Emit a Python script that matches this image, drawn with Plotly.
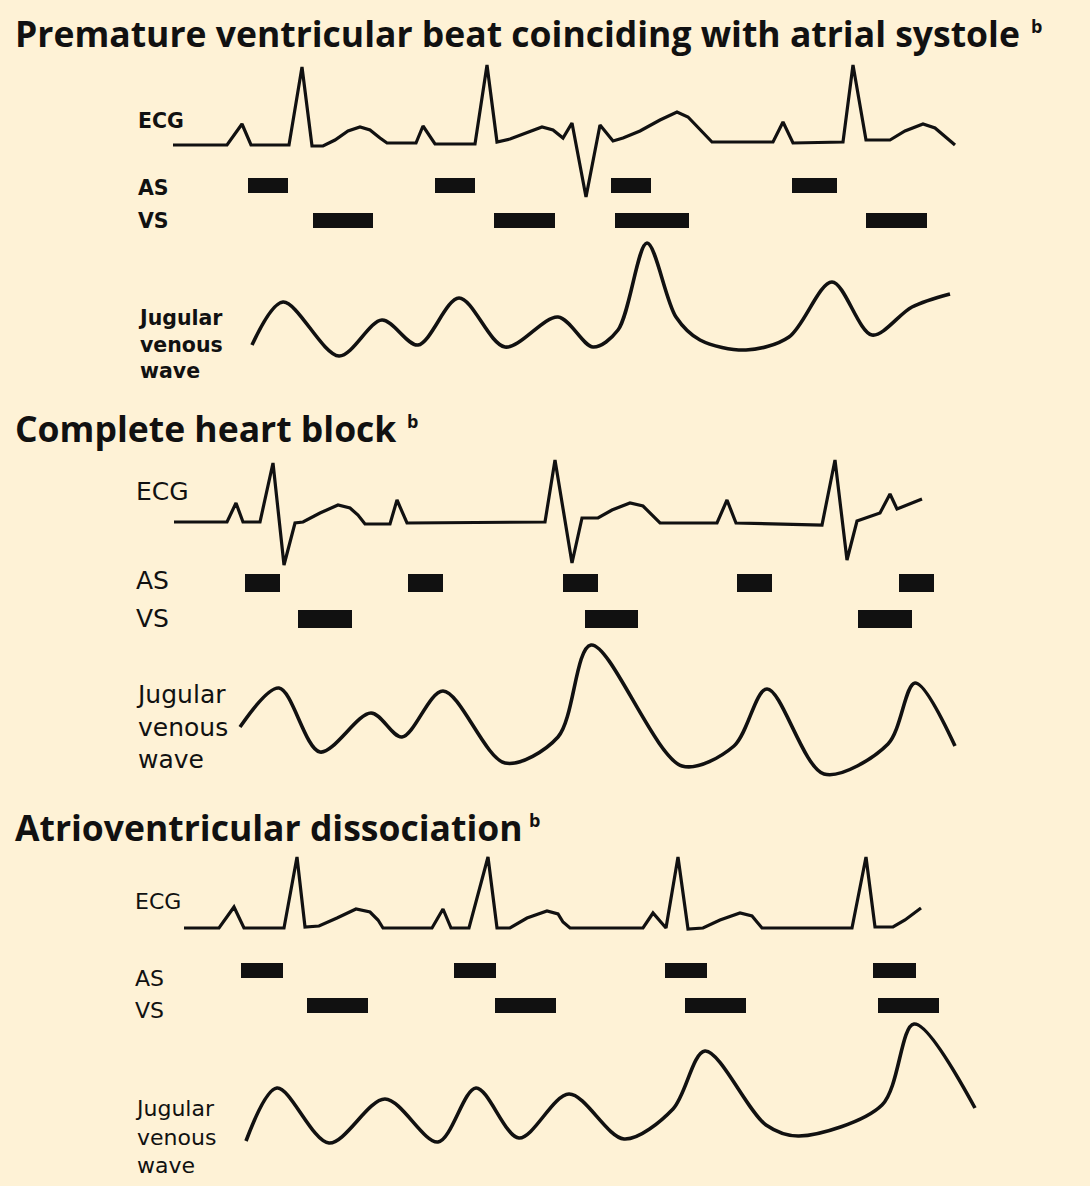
import plotly.graph_objects as go

# ---------------- data (pixel-space coordinates) ----------------
titles = ["Premature ventricular beat coinciding with atrial systole",
          "Complete heart block",
          "Atrioventricular dissociation"]
title_note = "b"
row_labels = ["ECG", "AS", "VS"]
jvp_label_lines = ["Jugular", "venous", "wave"]

# Panel 1
p1_ecg_x = [173, 227, 242, 251, 289, 302, 312, 323, 335, 348, 360, 370, 380, 387, 416, 423, 435, 475, 487, 497,
            510, 525, 542, 553, 563, 572, 586, 600, 613, 623, 640, 660, 677, 688, 700, 712, 773, 783, 793, 843,
            853, 866, 890, 905, 923, 935, 955]
p1_ecg_y = [145, 145, 124, 145, 145, 67, 146, 146, 140, 131, 127, 130, 138, 143, 143, 126, 144, 144, 65, 142,
            139, 133, 127, 130, 138, 123, 197, 125, 141, 138, 131, 120, 112, 117, 130, 142, 142, 122, 143, 142,
            65, 140, 140, 131, 124, 128, 145]
p1_as_start = [248, 435, 611, 792]
p1_as_end = [288, 475, 651, 837]
p1_vs_start = [313, 494, 615, 866]
p1_vs_end = [373, 555, 689, 927]
p1_jvp_x = [252, 283, 339, 382, 418, 459, 505, 558, 593, 618, 647, 676, 700, 746, 789, 832, 872, 912, 950]
p1_jvp_y = [345, 302, 356, 320, 345, 298, 347, 317, 347, 330, 243, 317, 340, 350, 337, 282, 335, 307, 294]

# Panel 2
p2_ecg_x = [174, 227, 236, 243, 260, 273, 284, 295, 303, 320, 338, 350, 358, 365, 390, 397, 407, 545, 555, 572,
            582, 598, 612, 630, 643, 660, 717, 727, 736, 822, 835, 847, 857, 880, 890, 897, 922]
p2_ecg_y = [522, 522, 503, 522, 522, 463, 565, 523, 522, 513, 505, 508, 515, 524, 524, 500, 523, 522, 460, 563,
            518, 518, 510, 503, 506, 523, 523, 500, 523, 525, 460, 560, 521, 513, 494, 509, 499]
p2_as_start = [245, 408, 563, 737, 899]
p2_as_end = [280, 443, 598, 772, 934]
p2_vs_start = [298, 585, 858]
p2_vs_end = [352, 638, 912]
p2_jvp_x = [240, 279, 320, 371, 402, 443, 505, 558, 591, 682, 734, 767, 824, 888, 915, 955]
p2_jvp_y = [727, 688, 752, 713, 737, 691, 763, 737, 645, 766, 746, 689, 774, 744, 683, 746]

# Panel 3
p3_ecg_x = [184, 219, 234, 244, 284, 297, 305, 319, 337, 356, 370, 378, 383, 432, 443, 451, 469, 488, 497, 510,
            527, 547, 558, 563, 570, 643, 653, 666, 678, 688, 703, 720, 740, 752, 757, 762, 852, 866, 875, 893,
            905, 921]
p3_ecg_y = [928, 928, 907, 928, 928, 857, 927, 926, 918, 909, 912, 920, 928, 928, 909, 928, 928, 857, 928, 928,
            918, 911, 914, 922, 928, 928, 913, 928, 857, 929, 928, 920, 913, 916, 922, 928, 928, 857, 927, 927,
            920, 908]
p3_as_start = [241, 454, 665, 873]
p3_as_end = [283, 496, 707, 916]
p3_vs_start = [307, 495, 685, 878]
p3_vs_end = [368, 556, 746, 939]
p3_jvp_x = [246, 277, 329, 385, 438, 476, 519, 569, 624, 673, 705, 766, 799, 882, 914, 975]
p3_jvp_y = [1141, 1088, 1143, 1099, 1142, 1088, 1138, 1094, 1139, 1109, 1051, 1125, 1136, 1105, 1024, 1108]

# ---------------- layout / styles ----------------
BG = "#FEF2D6"
INK = "#111111"
LABEL_FONT = "DejaVu Sans"
TITLE_FONT = "Open Sans"

panels = [
    dict(ecg=(p1_ecg_x, p1_ecg_y), jvp=(p1_jvp_x, p1_jvp_y),
         as_=(p1_as_start, p1_as_end), vs=(p1_vs_start, p1_vs_end),
         as_y=185.5, vs_y=220.5, bar_h=15, title_y=33, note_x=1029, note_y=26,
         lab_x=136, lab_size=20.5, bold=True,
         lab_y=[121, 188, 221], jvp_lab_y=344),
    dict(ecg=(p2_ecg_x, p2_ecg_y), jvp=(p2_jvp_x, p2_jvp_y),
         as_=(p2_as_start, p2_as_end), vs=(p2_vs_start, p2_vs_end),
         as_y=583, vs_y=619, bar_h=18, title_y=428, note_x=405, note_y=421,
         lab_x=134, lab_size=25, bold=False,
         lab_y=[491, 580, 618], jvp_lab_y=727),
    dict(ecg=(p3_ecg_x, p3_ecg_y), jvp=(p3_jvp_x, p3_jvp_y),
         as_=(p3_as_start, p3_as_end), vs=(p3_vs_start, p3_vs_end),
         as_y=970.5, vs_y=1005.5, bar_h=15, title_y=827, note_x=527, note_y=820,
         lab_x=133, lab_size=22, bold=False,
         lab_y=[901, 978, 1010], jvp_lab_y=1137),
]

fig = go.Figure()
annotations = []

for i, p in enumerate(panels):
    ex, ey = p["ecg"]
    fig.add_trace(go.Scatter(x=ex, y=ey, mode="lines",
                             line=dict(color=INK, width=3.2, shape="linear"),
                             hoverinfo="skip", showlegend=False))
    jx, jy = p["jvp"]
    fig.add_trace(go.Scatter(x=jx, y=jy, mode="lines",
                             line=dict(color=INK, width=3.6, shape="spline", smoothing=0.9),
                             hoverinfo="skip", showlegend=False))
    for (starts, ends), yc in ((p["as_"], p["as_y"]), (p["vs"], p["vs_y"])):
        fig.add_trace(go.Bar(x=[e - s for s, e in zip(starts, ends)], base=starts,
                             y=[yc] * len(starts), orientation="h", width=p["bar_h"],
                             marker=dict(color=INK, line=dict(width=0)),
                             hoverinfo="skip", showlegend=False))
    annotations.append(dict(x=13, y=p["title_y"], xref="x", yref="y",
                            text="<b>" + titles[i] + "</b>",
                            showarrow=False, xanchor="left", yanchor="middle",
                            font=dict(family=TITLE_FONT, size=35.5, color=INK)))
    annotations.append(dict(x=p["note_x"], y=p["note_y"], xref="x", yref="y",
                            text="<b>" + title_note + "</b>",
                            showarrow=False, xanchor="left", yanchor="middle",
                            font=dict(family=TITLE_FONT, size=18, color=INK)))
    lf = dict(family=LABEL_FONT, size=p["lab_size"], color=INK)
    wrap = (lambda s: "<b>" + s + "</b>") if p["bold"] else (lambda s: s)
    for txt, yy in zip(row_labels, p["lab_y"]):
        annotations.append(dict(x=p["lab_x"], y=yy, xref="x", yref="y", text=wrap(txt), showarrow=False,
                                xanchor="left", yanchor="middle", font=lf))
    annotations.append(dict(x=p["lab_x"], y=p["jvp_lab_y"], xref="x", yref="y",
                            text="<br>".join(wrap(s) for s in jvp_label_lines), showarrow=False,
                            xanchor="left", yanchor="middle", align="left", font=lf))

fig.update_layout(
    width=1090, height=1186,
    margin=dict(l=0, r=0, t=0, b=0),
    paper_bgcolor=BG, plot_bgcolor=BG,
    barmode="overlay",
    xaxis=dict(range=[0, 1090], visible=False, fixedrange=True),
    yaxis=dict(range=[1186, 0], visible=False, fixedrange=True),
    annotations=annotations,
    showlegend=False,
)

fig.write_html("out.html", config={"displayModeBar": False},
               post_script="document.body.style.margin='0';document.body.style.background='#FEF2D6';")
